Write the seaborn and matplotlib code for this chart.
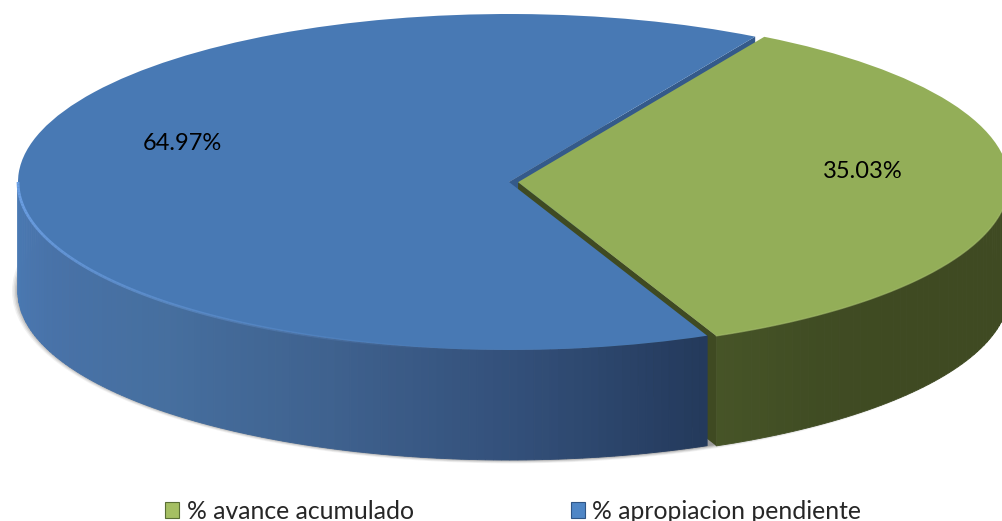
import numpy as np
import matplotlib
matplotlib.use('Agg')
import matplotlib.pyplot as plt
import seaborn as sns
from matplotlib.patches import Ellipse
from matplotlib.transforms import Affine2D

# Values
categories = ['% avance acumulado', '% apropiacion pendiente']
values = [35.03, 64.97]
top_colors = ['#93AE58', '#4879B4']

sns.set_theme(style='white')
plt.rcParams['font.family'] = ['Lato', 'DejaVu Sans']

# Pie geometry in image pixels
cx, cy = 509, 182
rx, ry = 491, 168
depth = 110

fig = plt.figure(figsize=(10.03, 5.21), dpi=100)
ax = fig.add_axes([0, 0, 1, 1])

wedges, _ = ax.pie(values, colors=top_colors, startangle=-66.2, explode=[0.0185, 0],
                   wedgeprops={'linewidth': 0, 'zorder': 10})
ax.set_aspect('auto')
ax.set_xlim(0, 1003)
ax.set_ylim(521, 0)
ax.axis('off')

# Squash the round pie into the tilted ellipse
squash = Affine2D().scale(rx, -ry).translate(cx, cy) + ax.transData
for w in wedges:
    w.set_transform(squash)


def rim(wedge, theta):
    t = np.radians(theta)
    x = cx + rx * (wedge.center[0] + wedge.r * np.cos(t))
    y = cy - ry * (wedge.center[1] + wedge.r * np.sin(t))
    return x, y


def draw_wall(wedge, theta_from, theta_to, palette, zorder):
    thetas = np.linspace(theta_from, theta_to, len(palette) + 1)
    for i, color in enumerate(palette):
        x, y = rim(wedge, np.linspace(thetas[i], thetas[i + 1], 6))
        ax.fill(np.r_[x, x[::-1]], np.r_[y, y[::-1] + depth], color=color, lw=0.6, zorder=zorder)


green, blue = wedges

# Soft shadow under the disc
for grow, alpha in zip([8, 6.5, 5, 3.5, 2], [0.08, 0.11, 0.15, 0.2, 0.25]):
    ax.add_patch(Ellipse((cx + 2, cy + depth - 1), 2 * (rx + grow), 2 * (ry + grow * 0.55),
                         color='#555555', alpha=alpha, lw=0, zorder=1))

# Side walls
green_pal = sns.blend_palette(['#465427', '#404C23', '#3F4A22', '#3F4A22', '#3F4A22', '#3F4A22'], 60)
blue_pal = sns.blend_palette(['#4A7AB4', '#4872A8', '#466F9F', '#3F628F', '#33507A', '#243A5C'], 120)
draw_wall(green, green.theta1, 2, green_pal, 3)
draw_wall(blue, 180, blue.theta2, blue_pal, 5)

# Cut faces seen through the gap between the two slices
bx, by = rim(blue, blue.theta1)
ax.fill([cx, bx, bx, cx], [cy, by, by + depth, cy + depth], color='#345A8A', lw=0, zorder=2)
gx, gy = rim(green, green.theta1)
gcx, gcy = cx + rx * green.center[0], cy - ry * green.center[1]
ax.fill([gcx, gx, gx, gcx], [gcy, gy, gy + depth, gcy + depth], color='#3F4A22', lw=0, zorder=4)

# Light rim along the front edge of the top
rim_x, rim_y = rim(blue, np.linspace(180, 262, 90))
for i in range(len(rim_x) - 1):
    ax.plot(rim_x[i:i + 2], rim_y[i:i + 2], color='#6FA3E8', lw=2.0,
            alpha=0.95 * (1 - i / 90), solid_capstyle='butt', zorder=11)
rim_x, rim_y = rim(green, np.linspace(green.theta1, 0, 40))
ax.plot(rim_x, rim_y, color='#A6BF6C', lw=1.0, alpha=0.6, zorder=11)

# Percent labels
ax.text(182, 144, f'{values[1]:.2f}%', ha='center', va='center', fontsize=17, color='black', zorder=12)
ax.text(863, 172, f'{values[0]:.2f}%', ha='center', va='center', fontsize=17, color='black', zorder=12)

# Legend
handles = [plt.Rectangle((0, 0), 1, 1, facecolor=c, edgecolor='#5A6E35' if i == 0 else '#2F5586', lw=0.8)
           for i, c in enumerate(['#A5BF63', '#4F86C6'])]
ax.legend(handles, categories, ncol=2, loc='lower left', bbox_to_anchor=(165 / 1003, -0.003),
          frameon=False, fontsize=17.8, handlelength=0.58, handleheight=0.58,
          handletextpad=0.3, columnspacing=6.35, borderaxespad=0, borderpad=0)

plt.savefig('out.png', dpi=100)
plt.close()
